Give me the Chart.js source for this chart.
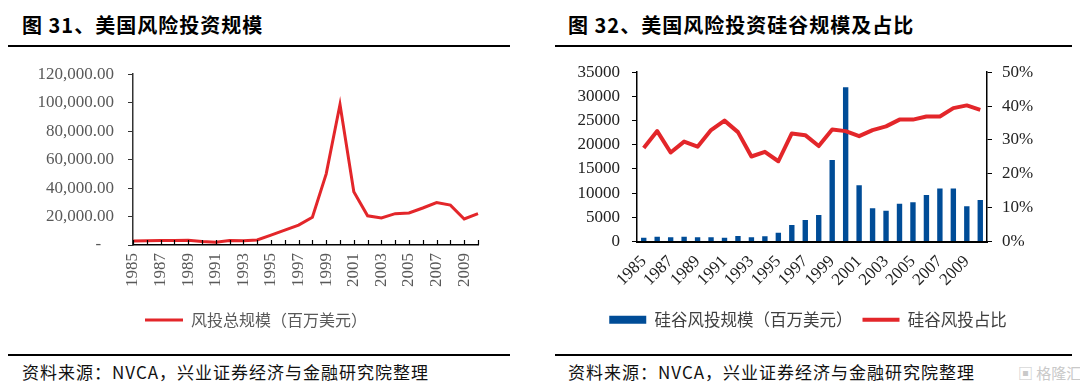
<!DOCTYPE html>
<html>
<head>
<meta charset="utf-8">
<script src="https://cdn.jsdelivr.net/npm/chart.js@4.4.1/dist/chart.umd.min.js"></script>
<style>
	body { margin: 0; width: 1080px; height: 390px; background: #fff; position: relative; overflow: hidden; font-family: "Noto Sans CJK SC", sans-serif; }
	.title { position: absolute; top: 10px; font-size: 20px; font-weight: bold; color: #000; letter-spacing: 1px; white-space: nowrap; }
	.rule { position: absolute; height: 2px; background: #000; }
	.src { position: absolute; top: 359px; font-size: 17px; color: #111; letter-spacing: 1px; white-space: nowrap; }
	.mark { position: absolute; top: 362px; left: 1018px; font-size: 15px; color: #c9c9c9; white-space: nowrap; }
	canvas { position: absolute; }
</style>
</head>
<body>
<div class="title" style="left:22px">图 31、美国风险投资规模</div>
<div class="rule" style="left:8px;width:502px;top:45px"></div>
<div class="title" style="left:568px">图 32、美国风险投资硅谷规模及占比</div>
<div class="rule" style="left:555px;width:517px;top:45px"></div>

<canvas id="chart1" width="520" height="295" style="left:0;top:50px"></canvas>
<canvas id="chart2" width="540" height="295" style="left:540px;top:50px"></canvas>

<div class="rule" style="left:8px;width:502px;top:354px"></div>
<div class="src" style="left:22px">资料来源：NVCA，兴业证券经济与金融研究院整理</div>
<div class="rule" style="left:555px;width:517px;top:354px"></div>
<div class="src" style="left:568px">资料来源：NVCA，兴业证券经济与金融研究院整理</div>
<div class="mark">▣ 格隆汇</div>

<script>
// categories
const years = ["1985", "1986", "1987", "1988", "1989", "1990", "1991", "1992", "1993", "1994",
	"1995", "1996", "1997", "1998", "1999", "2000", "2001", "2002", "2003", "2004",
	"2005", "2006", "2007", "2008", "2009", "2010"];

// 图31: total US venture investment, million USD
const totalVC = [2800, 3000, 3200, 3200, 3300, 2500, 2000, 3200, 3000, 3500,
	7000, 10500, 14000, 19500, 50000, 98700, 37500, 20500, 19000, 22000,
	22500, 26000, 29800, 28000, 18300, 22000];

// 图32: Silicon Valley venture investment (million USD) and its share (%)
const svVC = [800, 1000, 900, 1000, 900, 900, 750, 1150, 900, 1100,
	1800, 3400, 4450, 5500, 16850, 31900, 11650, 6850, 6350, 7800,
	8100, 9600, 10950, 10950, 7300, 8600];
const svShare = [27.6, 32.6, 26.3, 29.5, 28.0, 32.9, 35.7, 32.3, 25.1, 26.5,
	23.7, 31.9, 31.4, 28.2, 33.1, 32.6, 31.1, 32.9, 34.0, 36.0,
	36.0, 36.9, 36.9, 39.4, 40.2, 38.9];

const leftTicks = [0, 20000, 40000, 60000, 80000, 100000, 120000];

const red = "#e3262a";
const blue = "#004c97";
const serif = "'Liberation Serif', 'Times New Roman', serif";
const cjk = "'Noto Sans CJK SC', sans-serif";

// small tick marks pointing up into the plot, like the Excel original
const innerTicks = {
	id: "innerTicks",
	afterDatasetsDraw(chart) {
		const xs = chart.scales.x;
		const ctx = chart.ctx;
		const bottom = chart.chartArea.bottom;
		ctx.save();
		ctx.strokeStyle = "#000";
		ctx.lineWidth = 1.2;
		ctx.beginPath();
		for (let i = 0; i < xs.ticks.length; i++) {
			const px = Math.round(xs.getPixelForTick(i)) + 0.5;
			ctx.moveTo(px, bottom);
			ctx.lineTo(px, bottom - 5);
		}
		ctx.stroke();
		ctx.restore();
	},
};

new Chart(document.getElementById("chart1"), {
	type: "line",
	data: {
		labels: years,
		datasets: [
			{
				label: "风投总规模（百万美元）",
				data: totalVC,
				borderColor: red,
				backgroundColor: red,
				borderWidth: 3,
				pointRadius: 0,
				pointStyle: "line",
				tension: 0,
				fill: false,
			},
		],
	},
	options: {
		responsive: false,
		animation: false,
		layout: { padding: { left: 34, right: 42, top: 20, bottom: 7 } },
		plugins: {
			tooltip: { enabled: false },
			legend: {
				position: "bottom",
				labels: {
					usePointStyle: true,
					pointStyleWidth: 38,
					boxHeight: 8,
					padding: 10,
					color: "#595959",
					font: { family: cjk, size: 16 },
				},
			},
		},
		scales: {
			x: {
				offset: false,
				grid: { display: true, drawOnChartArea: false, drawTicks: false },
				border: { display: true, color: "#000", width: 1.5 },
				ticks: {
					autoSkip: false,
					minRotation: 90,
					maxRotation: 90,
					padding: 8,
					color: "#595959",
					font: { family: serif, size: 17 },
					callback: (v, i) => (i % 2 === 0 ? years[i] : ""),
				},
				afterFit: (s) => { s.height = 57; },
			},
			y: {
				min: 0,
				max: 120000,
				afterBuildTicks: (s) => { s.ticks = leftTicks.map((v) => ({ value: v })); },
				grid: { drawOnChartArea: false, tickLength: 5, color: "#333" },
				border: { display: true, color: "#333", width: 1.5 },
				ticks: {
					padding: 14,
					color: "#595959",
					font: { family: serif, size: 17 },
					callback: (v) => (v === 0 ? "-   " : v.toLocaleString("en-US", { minimumFractionDigits: 2 })),
				},
				afterFit: (s) => { s.width = 99; },
			},
		},
	},
	plugins: [innerTicks],
});

new Chart(document.getElementById("chart2"), {
	type: "bar",
	data: {
		labels: years,
		datasets: [
			{
				type: "bar",
				label: "硅谷风投规模（百万美元）",
				data: svVC,
				backgroundColor: blue,
				borderWidth: 0,
				pointStyle: "rect",
				barPercentage: 0.4,
				categoryPercentage: 1,
				yAxisID: "y",
				order: 1,
			},
			{
				type: "line",
				label: "硅谷风投占比",
				data: svShare,
				borderColor: red,
				backgroundColor: red,
				borderWidth: 4,
				borderJoinStyle: "round",
				pointRadius: 0,
				pointStyle: "line",
				tension: 0,
				fill: false,
				yAxisID: "y1",
				order: 0,
			},
		],
	},
	options: {
		responsive: false,
		animation: false,
		layout: { padding: { left: 10, right: 14, top: 20, bottom: 7 } },
		plugins: {
			tooltip: { enabled: false },
			legend: {
				position: "bottom",
				labels: {
					usePointStyle: true,
					pointStyleWidth: 37,
					boxHeight: 8,
					padding: 10,
					color: "#404040",
					font: { family: cjk, size: 16.5 },
					sort: (a, b) => a.datasetIndex - b.datasetIndex,
				},
			},
		},
		scales: {
			x: {
				grid: { display: true, drawOnChartArea: false, drawTicks: false },
				border: { display: true, color: "#000", width: 2 },
				ticks: {
					autoSkip: false,
					minRotation: 45,
					maxRotation: 45,
					padding: 10,
					color: "#222",
					font: { family: serif, size: 17 },
					callback: (v, i) => (i % 2 === 0 ? years[i] : ""),
				},
				afterFit: (s) => { s.height = 60; },
			},
			y: {
				min: 0,
				max: 35000,
				grid: { drawOnChartArea: false, tickLength: 5, color: "#000" },
				border: { display: true, color: "#000", width: 1.5 },
				ticks: { stepSize: 5000, padding: 12, color: "#222", font: { family: serif, size: 17 }, callback: (v) => String(v) },
				afterFit: (s) => { s.width = 87; },
			},
			y1: {
				position: "right",
				min: 0,
				max: 50,
				grid: { drawOnChartArea: false, tickLength: 5, color: "#000" },
				border: { display: true, color: "#000", width: 1.5 },
				ticks: { stepSize: 10, padding: 10, color: "#222", font: { family: serif, size: 17 }, callback: (v) => v + "%" },
				afterFit: (s) => { s.width = 79; },
			},
		},
	},
});
</script>
</body>
</html>
